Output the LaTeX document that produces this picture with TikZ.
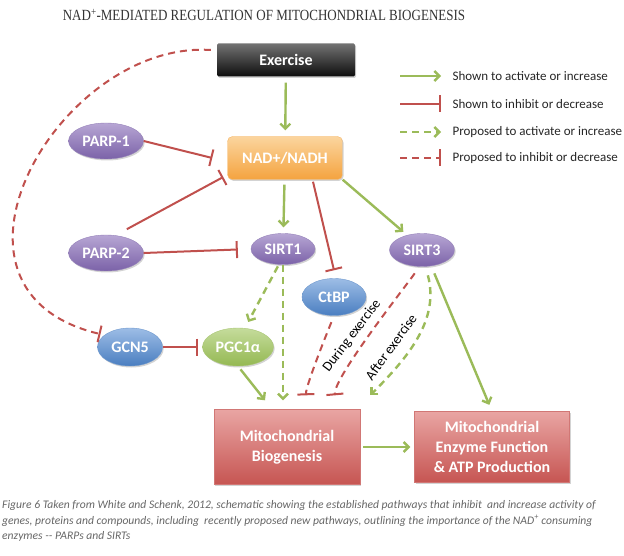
\documentclass[tikz,border=0pt]{standalone}
\usepackage{fontspec}
\setmainfont{Liberation Serif}
\newfontfamily\boxfont{Carlito}
\usetikzlibrary{arrows.meta,shapes.geometric,shadows,calc}
\definecolor{actgreen}{HTML}{9BBB59}
\definecolor{inhred}{HTML}{C0504D}
\definecolor{purplight}{HTML}{B7A6D4}
\definecolor{purpdark}{HTML}{7B62A8}
\definecolor{bluelight}{HTML}{9DBDE6}
\definecolor{bluedark}{HTML}{4A7EC0}
\definecolor{greenlight}{HTML}{C5DC9C}
\definecolor{greendark}{HTML}{94B852}
\definecolor{orangelight}{HTML}{FBD59E}
\definecolor{orangedark}{HTML}{F4A33F}
\definecolor{redlight}{HTML}{E9A5A3}
\definecolor{reddark}{HTML}{C65552}

\begin{document}
\begin{tikzpicture}[x=1pt, y=-1pt,
  boxtext/.style={font=\boxfont\bfseries\fontsize{16}{20}\selectfont, text=white, align=center},
  shade/.style={drop shadow={opacity=0.35, shadow xshift=1.2pt, shadow yshift=-1.5pt}},
  oval/.style={ellipse, boxtext, inner sep=0pt, shade},
  purpleoval/.style={oval, top color=purplight, bottom color=purpdark, draw=purpdark!80, line width=0.4pt},
  blueoval/.style={oval, top color=bluelight, bottom color=bluedark, draw=bluedark!80, line width=0.4pt},
  greenoval/.style={oval, top color=greenlight, bottom color=greendark, draw=greendark!80, line width=0.4pt},
  darkbox/.style={rectangle, rounded corners=1.5pt, boxtext, top color=black!55, bottom color=black!95, shade},
  nadbox/.style={rectangle, rounded corners=5pt, boxtext, top color=orangelight, bottom color=orangedark, draw=orangedark!80, line width=0.4pt, shade},
  redbox/.style={rectangle, boxtext, top color=redlight, bottom color=reddark, draw=reddark!80, line width=0.4pt, shade},
  act/.style={actgreen, line width=2.4pt, -{Straight Barb[length=5pt, width=10pt]}},
  inh/.style={inhred, line width=2pt, -{Bar[width=17pt]}},
  pact/.style={act, dash pattern=on 7pt off 5pt},
  pinh/.style={inh, dash pattern=on 7pt off 5pt},
  lbl/.style={font=\boxfont\fontsize{14}{16}\selectfont, inner sep=1pt},
  legtext/.style={font=\boxfont\fontsize{13}{15}\selectfont, anchor=west, text=black!85},
  captext/.style={anchor=base west, inner sep=0pt, text=black!60, font=\boxfont\itshape\fontsize{11.6}{14}\selectfont}]
\useasboundingbox (0,0) rectangle (624,556);

\node[font=\fontsize{15.5}{17}\selectfont, text=black!80] (title) at (264,15)
  {\scalebox{0.84}[1]{NAD\textsuperscript{+}-MEDIATED REGULATION OF MITOCHONDRIAL BIOGENESIS}};

\node[darkbox, minimum width=138pt, minimum height=33pt] (ex) at (286,60) {Exercise};
\node[nadbox, minimum width=115pt, minimum height=43pt] (nad) at (285,158) {NAD+/NADH};
\node[purpleoval, minimum width=75pt, minimum height=36pt] (parp1) at (106,141) {PARP-1};
\node[purpleoval, minimum width=75pt, minimum height=36pt] (parp2) at (106,253) {PARP-2};
\node[purpleoval, minimum width=64pt, minimum height=31pt] (sirt1) at (283,249) {SIRT1};
\node[purpleoval, minimum width=65pt, minimum height=33pt] (sirt3) at (422,250) {SIRT3};
\node[blueoval, minimum width=64pt, minimum height=37pt] (ctbp) at (334,297) {CtBP};
\node[blueoval, minimum width=65pt, minimum height=38pt] (gcn5) at (130,347) {GCN5};
\node[greenoval, minimum width=71pt, minimum height=38pt] (pgc) at (238,347) {PGC1α};
\node[redbox, minimum width=146pt, minimum height=75pt] (bio) at (287,447) {Mitochondrial\\Biogenesis};
\node[redbox, minimum width=155pt, minimum height=71pt] (enz) at (492,447)
  {Mitochondrial\\Enzyme Function\\\& ATP Production};

\draw[act, shorten <=6pt, shorten >=6pt] (ex) -- (nad);
\draw[pinh, shorten >=4pt] ($(ex.west)+(-6,-10)$) .. controls (60,40) and (-85,290) .. (gcn5.155);
\draw[inh] (parp1.east) -- ($(nad.west)+(-15,0)$);
\draw[inh] ($(parp2.40)+(2,-8)$) -- ($(nad.west)+(-4,19)$);
\draw[inh, shorten >=13pt] (parp2.east) -- (sirt1.west);
\draw[act, shorten <=5pt, shorten >=6pt] (nad) -- (sirt1);
\draw[inh] ($(nad.south)+(28,2)$) -- ($(ctbp.north)+(0,-8)$);
\draw[act, shorten >=5pt] (nad.south east) -- (sirt3.135);
\draw[pact, shorten <=2pt, shorten >=7pt] (sirt1.-105) -- (pgc.70);
\draw[pact, shorten >=9pt] (sirt1.south) -- (sirt1.south |- bio.north);
\draw[act, shorten <=4pt] (pgc.south) -- ($(bio.north)+(-22,-9)$);
\draw[inh, shorten >=4pt] (gcn5.east) -- (pgc.west);
\draw[pinh, shorten <=7pt] (ctbp.south) to[out=-112, in=92, looseness=0.3] ($(bio.north)+(19,-14)$);
\draw[pinh, shorten <=8pt] (sirt3.-100) to[out=-123, in=95, looseness=0.3] ($(bio.north)+(48,-14)$);
\draw[pact, shorten <=9pt] (sirt3.-78) to[out=-75, in=45] ($(bio.north east)+(10,-14)$);
\draw[act, shorten <=8pt, shorten >=7pt] (sirt3.-60) -- (enz.north);
\draw[act, shorten <=3pt, shorten >=4pt] (bio) -- (enz);

\node[lbl, rotate=53] (during) at (352,336) {During exercise};
\node[lbl, rotate=54] (after) at (391,347) {After exercise};

\coordinate (l1a) at (400,76);  \coordinate (l1b) at (441,76);
\coordinate (l2a) at (400,104); \coordinate (l2b) at (441,104);
\coordinate (l3a) at (400,132); \coordinate (l3b) at (441,132);
\coordinate (l4a) at (400,158); \coordinate (l4b) at (441,158);
\draw[act] (l1a) -- (l1b);
\draw[inh] (l2a) -- (l2b);
\draw[pact] (l3a) -- (l3b);
\draw[pinh] (l4a) -- (l4b);
\node[legtext] (leg1) at (449,76) {Shown to activate or increase};
\node[legtext] (leg2) at (449,104) {Shown to inhibit or decrease};
\node[legtext] (leg3) at (449,132) {Proposed to activate or increase};
\node[legtext] (leg4) at (449,158) {Proposed to inhibit or decrease};

\node[captext] (cap1) at (2,508)
  {Figure 6 Taken from White and Schenk, 2012, schematic showing the established pathways that inhibit \ and increase activity of};
\node[captext] (cap2) at (2,524)
  {genes, proteins and compounds, including \ recently proposed new pathways, outlining the importance of the NAD\textsuperscript{+} consuming};
\node[captext] (cap3) at (2,539) {enzymes -- PARPs and SIRTs};
\end{tikzpicture}
\end{document}
